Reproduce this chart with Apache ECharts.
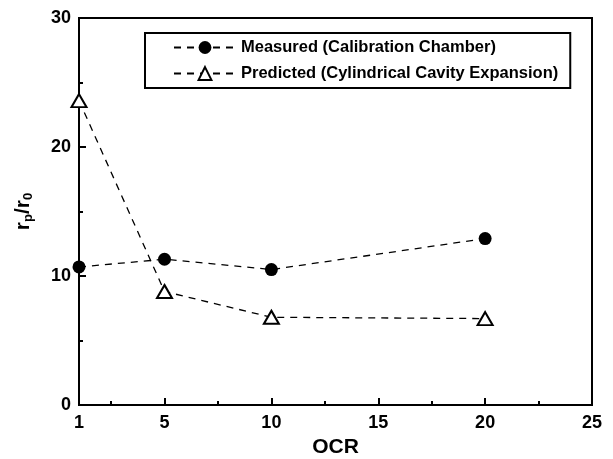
<!DOCTYPE html>
<html>
<head>
<meta charset="utf-8">
<script src="https://cdn.jsdelivr.net/npm/echarts@6/dist/echarts.min.js"></script>
<style>
  html, body { margin: 0; padding: 0; background: #fff; }
  #main { width: 613px; height: 459px; }
</style>
</head>
<body>
<div id="main"></div>
<script>
// OCR values and r_p/r_0
var ocr = [1, 5, 10, 20];
var measured = [10.7, 11.3, 10.5, 12.9];
var predicted = [23.6, 8.8, 6.8, 6.7];
var xLabels = [1, 5, 10, 15, 20, 25];
var xMajorTicks = [5, 10, 15, 20];
var xMinorTicks = [2.5, 7.5, 12.5, 17.5, 22.5];

var chart = echarts.init(document.getElementById('main'));
var font = 'Liberation Sans, Arial, sans-serif';

function pairs(xs, ys) {
  return xs.map(function (x, i) { return [x, ys[i]]; });
}

var option = {
  backgroundColor: '#fff',
  animation: false,
  grid: {
    left: 79, right: 21, top: 18, bottom: 54,
    outerBoundsMode: 'none',
    show: true, borderColor: '#000', borderWidth: 2
  },
  legend: {
    left: 145, top: 33,
    orient: 'vertical',
    backgroundColor: '#fff',
    borderColor: '#000', borderWidth: 2, borderRadius: 0,
    padding: [6, 12, 6, 28],
    itemWidth: 62, itemHeight: 16, itemGap: 9,
    textStyle: { color: '#000', fontFamily: font, fontWeight: 'bold', fontSize: 16.5, lineHeight: 16 },
    data: ['Measured (Calibration Chamber)', 'Predicted (Cylindrical Cavity Expansion)']
  },
  xAxis: [{
    type: 'value', min: 1, max: 25,
    name: 'OCR', nameLocation: 'middle', nameGap: 26,
    nameTextStyle: { color: '#000', fontFamily: font, fontWeight: 'bold', fontSize: 21 },
    axisLine: { lineStyle: { color: '#000', width: 2 } },
    axisTick: { inside: true, length: 7, lineStyle: { width: 2, color: '#000' }, customValues: xMajorTicks },
    axisLabel: { color: '#000', fontFamily: font, fontWeight: 'bold', fontSize: 18, margin: 9, customValues: xLabels },
    splitLine: { show: false }
  }, {
    type: 'value', min: 1, max: 25, position: 'bottom',
    axisLine: { show: false },
    axisTick: { inside: true, length: 4, lineStyle: { width: 2, color: '#000' }, customValues: xMinorTicks },
    axisLabel: { show: false },
    splitLine: { show: false }
  }],
  yAxis: {
    type: 'value', min: 0, max: 30, interval: 10,
    name: '{a|r}{s|p}{a|/r}{s|0}', nameLocation: 'middle', nameGap: 44, nameRotate: 90,
    nameTextStyle: {
      rich: {
        a: { color: '#000', fontFamily: font, fontWeight: 'bold', fontSize: 21, lineHeight: 24 },
        s: { color: '#000', fontFamily: font, fontWeight: 'bold', fontSize: 13, lineHeight: 24, padding: [11, 0, 0, 0] }
      }
    },
    axisLine: { lineStyle: { color: '#000', width: 2 } },
    axisTick: { inside: true, length: 7, lineStyle: { width: 2, color: '#000' } },
    minorTick: { show: true, splitNumber: 2, length: 4, lineStyle: { width: 2, color: '#000' } },
    axisLabel: { color: '#000', fontFamily: font, fontWeight: 'bold', fontSize: 18, margin: 8 },
    splitLine: { show: false }
  },
  series: [{
    name: 'Measured (Calibration Chamber)',
    type: 'line',
    data: pairs(ocr, measured),
    symbol: 'circle', symbolSize: 13,
    itemStyle: { color: '#000' },
    lineStyle: { color: '#000', width: 1.3, type: [7, 6] }
  }, {
    name: 'Predicted (Cylindrical Cavity Expansion)',
    type: 'line',
    data: pairs(ocr, predicted),
    symbol: 'triangle', symbolSize: [15, 13],
    itemStyle: { color: '#fff', borderColor: '#000', borderWidth: 2 },
    lineStyle: { color: '#000', width: 1.3, type: [7, 6] }
  }]
};

chart.setOption(option);
</script>
</body>
</html>
